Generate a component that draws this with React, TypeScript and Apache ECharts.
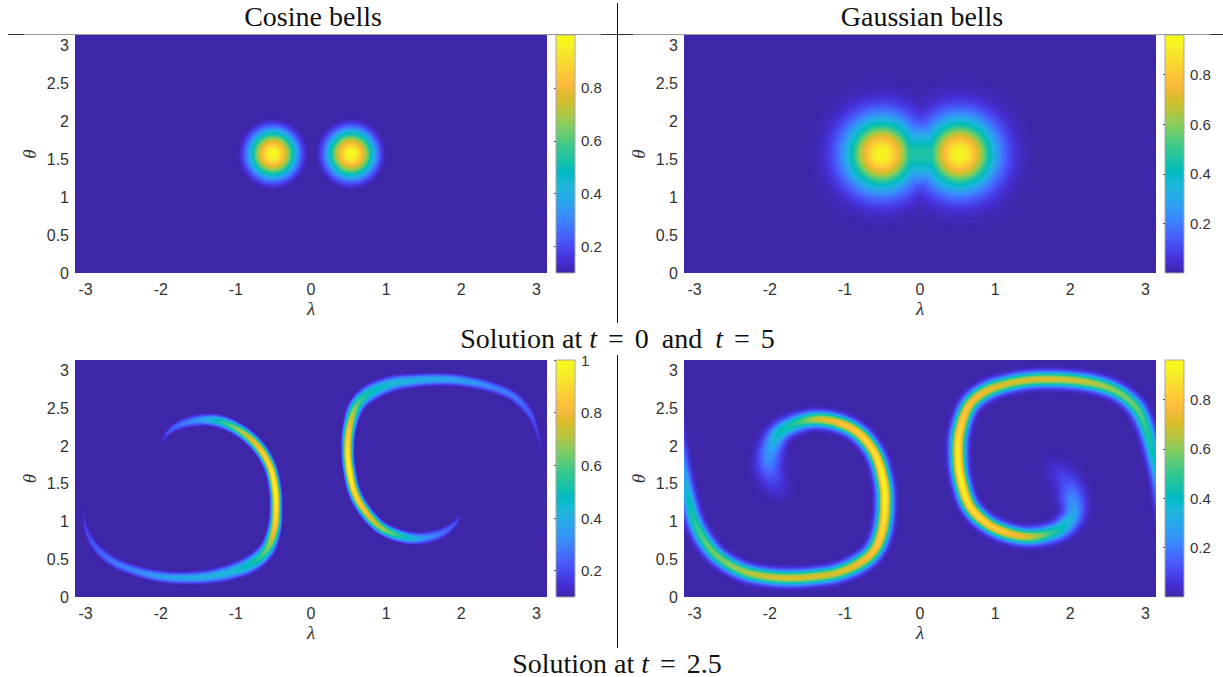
import React, { useEffect, useRef } from "react";
import * as echarts from "echarts";

// [lambda, theta, peak value, half width]
type Sample = number[];
const cosineBellsInitial: Sample[][] = [
  [[-0.507, 1.57, 1.0, 0.5]],
  [[0.533, 1.57, 1.0, 0.5]],
];
const gaussianBellsInitial: Sample[][] = [
  [[-0.51, 1.57, 0.47, 1.0], [-0.26, 1.57, 0.47, 0.95], [0.01, 1.57, 0.47, 0.85], [0.27, 1.57, 0.47, 0.95], [0.53, 1.57, 0.47, 1.0]],
  [[-0.51, 1.57, 0.95, 1.0]],
  [[0.53, 1.57, 0.95, 1.0]],
];
const cosineFilaments: Sample[][] = [
  [[-2.0, 2.015, 0.12, 0.01], [-1.9, 2.18, 0.22, 0.05], [-1.72, 2.29, 0.28, 0.085], [-1.455, 2.346, 0.37, 0.1], [-1.19, 2.32, 0.55, 0.105], [-0.922, 2.19, 0.72, 0.105], [-0.7, 1.99, 0.85, 0.105], [-0.545, 1.728, 0.93, 0.1], [-0.478, 1.44, 1.0, 0.098], [-0.465, 1.153, 0.95, 0.1], [-0.49, 0.888, 0.85, 0.11], [-0.59, 0.623, 0.65, 0.13], [-0.79, 0.446, 0.52, 0.145], [-1.055, 0.336, 0.45, 0.135], [-1.366, 0.27, 0.42, 0.115], [-1.677, 0.252, 0.4, 0.105], [-1.988, 0.27, 0.37, 0.1], [-2.3, 0.336, 0.32, 0.095], [-2.61, 0.455, 0.29, 0.09], [-2.83, 0.623, 0.25, 0.08], [-2.964, 0.822, 0.2, 0.055], [-3.02, 1.02, 0.16, 0.03], [-3.06, 1.286, 0.11, 0.01]],
  [[2.0, 1.11, 0.12, 0.01], [1.91, 0.968, 0.22, 0.05], [1.73, 0.844, 0.28, 0.085], [1.465, 0.778, 0.37, 0.1], [1.2, 0.805, 0.55, 0.105], [0.925, 0.925, 0.72, 0.105], [0.71, 1.153, 0.85, 0.105], [0.577, 1.396, 0.93, 0.1], [0.51, 1.684, 1.0, 0.098], [0.488, 1.95, 0.95, 0.1], [0.51, 2.236, 0.85, 0.11], [0.6, 2.523, 0.65, 0.13], [0.777, 2.7, 0.52, 0.145], [1.065, 2.824, 0.45, 0.135], [1.376, 2.868, 0.42, 0.115], [1.687, 2.886, 0.4, 0.105], [2.0, 2.868, 0.37, 0.1], [2.352, 2.797, 0.32, 0.095], [2.663, 2.678, 0.29, 0.09], [2.863, 2.5, 0.25, 0.08], [2.974, 2.302, 0.2, 0.055], [3.04, 2.08, 0.16, 0.03], [3.094, 1.86, 0.11, 0.01]],
];
const gaussianFilaments: Sample[][] = [
  [[-1.78, 1.22, 0.0, 0.3], [-1.86, 1.4, 0.05, 0.36], [-1.96, 1.58, 0.12, 0.38], [-2.01, 1.77, 0.22, 0.36], [-1.98, 1.97, 0.29, 0.32], [-1.876, 2.17, 0.42, 0.26], [-1.65, 2.3, 0.5, 0.225], [-1.366, 2.355, 0.7, 0.205], [-1.055, 2.3, 0.8, 0.2], [-0.79, 2.148, 0.86, 0.2], [-0.59, 1.88, 0.9, 0.2], [-0.49, 1.55, 0.95, 0.2], [-0.465, 1.24, 0.93, 0.205], [-0.5, 0.89, 0.88, 0.21], [-0.61, 0.62, 0.8, 0.215], [-0.81, 0.446, 0.76, 0.215], [-1.1, 0.32, 0.72, 0.205], [-1.41, 0.27, 0.72, 0.2], [-1.72, 0.252, 0.72, 0.2], [-2.03, 0.27, 0.7, 0.2], [-2.34, 0.336, 0.65, 0.205], [-2.63, 0.49, 0.6, 0.205], [-2.83, 0.69, 0.57, 0.21], [-2.99, 0.977, 0.5, 0.205], [-3.075, 1.286, 0.42, 0.19], [-3.13, 1.64, 0.28, 0.17], [-3.164, 1.99, 0.16, 0.145], [-3.195, 2.39, 0.06, 0.11]],
  [[1.62, 1.9, 0.0, 0.3], [1.78, 1.72, 0.05, 0.36], [1.95, 1.52, 0.12, 0.38], [2.02, 1.33, 0.22, 0.36], [2.04, 1.11, 0.3, 0.3], [1.91, 0.93, 0.42, 0.26], [1.73, 0.844, 0.52, 0.23], [1.465, 0.8, 0.7, 0.21], [1.176, 0.844, 0.8, 0.205], [0.888, 0.977, 0.86, 0.2], [0.666, 1.2, 0.9, 0.2], [0.555, 1.507, 0.95, 0.2], [0.51, 1.816, 0.93, 0.205], [0.524, 2.17, 0.88, 0.21], [0.644, 2.523, 0.8, 0.215], [0.866, 2.72, 0.76, 0.215], [1.154, 2.824, 0.72, 0.205], [1.465, 2.877, 0.72, 0.2], [1.775, 2.886, 0.72, 0.2], [2.086, 2.868, 0.7, 0.2], [2.397, 2.81, 0.65, 0.205], [2.663, 2.7, 0.6, 0.205], [2.885, 2.5, 0.57, 0.21], [3.018, 2.214, 0.5, 0.205], [3.107, 1.86, 0.42, 0.19], [3.16, 1.507, 0.28, 0.17], [3.187, 1.153, 0.16, 0.145], [3.218, 0.756, 0.06, 0.11]],
];
// [fraction of the peak above background, distance as a fraction of the half width]
const cosineProfile = [[1, 0], [0.95, 0.14], [0.9, 0.2], [0.75, 0.33], [0.6, 0.44], [0.5, 0.5], [0.25, 0.67], [0.1, 0.8], [0.02, 0.91], [0, 1]];
const gaussianProfile = [[1, 0], [0.95, 0.1], [0.9, 0.145], [0.8, 0.21], [0.7, 0.27], [0.6, 0.32], [0.5, 0.37], [0.4, 0.43], [0.3, 0.49], [0.2, 0.57], [0.1, 0.68], [0.05, 0.77], [0.02, 0.88], [0, 1.05]];

const lambdaTicks = [-3, -2, -1, 0, 1, 2, 3];
const thetaTicks = [0, 0.5, 1, 1.5, 2, 2.5, 3];
const barTicksCosineTop = [0.2, 0.4, 0.6, 0.8];
const barTicksCosineBottom = [0.2, 0.4, 0.6, 0.8, 1];
const barTicksGaussian = [0.2, 0.4, 0.6, 0.8];
const parula = ["#3e26a8", "#4530d6", "#4748f0", "#4762fb", "#3e7ffe", "#3298f5", "#27a9e9", "#1cb8d9", "#01bac2", "#1bc2a7", "#37c78e", "#63cc72", "#8fcc59", "#bbc43a", "#dcbd29", "#f9ba3e", "#fcc935", "#f9dc2e", "#f6ef27", "#f9fb15"];

const FONT = "'Liberation Sans', Arial, sans-serif";
const SERIF = "'Liberation Serif', 'DejaVu Serif', serif";
const INK = "#333";

const hex = (c: string) => [1, 3, 5].map((i) => parseInt(c.slice(i, i + 2), 16));
function colourAt(t: number) {
  const p = Math.max(0, Math.min(0.9999, t)) * (parula.length - 1);
  const i = Math.floor(p);
  const a = hex(parula[i]), b = hex(parula[i + 1]);
  const m = a.map((v, k) => Math.round(v + (b[k] - v) * (p - i)));
  return `rgb(${m[0]},${m[1]},${m[2]})`;
}
function distanceFor(profile: number[][], f: number) {
  for (let i = 1; i < profile.length; i++) {
    if (f >= profile[i][0]) {
      const [f0, d0] = profile[i - 1];
      const [f1, d1] = profile[i];
      return d1 + ((d0 - d1) * (f - f1)) / (f0 - f1);
    }
  }
  return profile[profile.length - 1][1];
}
// Smooth drawing path through the samples.
function refine(s: Sample[]) {
  if (s.length < 3) return s;
  const out: Sample[] = [];
  const n = 10;
  for (let i = 0; i < s.length - 1; i++) {
    const p0 = s[Math.max(0, i - 1)], p1 = s[i], p2 = s[i + 1], p3 = s[Math.min(s.length - 1, i + 2)];
    for (let k = 0; k < n; k++) {
      const t = k / n;
      out.push(p1.map((_, d) =>
        0.5 * (2 * p1[d] + (p2[d] - p0[d]) * t + (2 * p0[d] - 5 * p1[d] + 4 * p2[d] - p3[d]) * t * t + (3 * p1[d] - p0[d] - 3 * p2[d] + p3[d]) * t * t * t)));
    }
  }
  out.push(s[s.length - 1]);
  return out;
}

function fieldSeries(xAxisIndex: number, bands: Sample[][], profile: number[][], vMin: number, vMax: number) {
  const LEVELS = 96;
  const paths = bands.map(refine);
  const items: number[][] = [];
  for (let l = 0; l < LEVELS; l++) for (let b = 0; b < paths.length; b++) items.push([l, b]);
  return {
    type: "custom",
    xAxisIndex,
    yAxisIndex: xAxisIndex,
    clip: true,
    silent: true,
    encode: { x: -1, y: -1 },
    data: items,
    renderItem: (_: any, api: any) => {
      const l = api.value(0) as number;
      const path = paths[api.value(1) as number];
      const t = (l + 0.5) / LEVELS;
      const level = vMin + t * (vMax - vMin);
      const fill = colourAt(t);
      const children: any[] = [];
      if (path.length === 1) {
        const [x, y, peak, w] = path[0];
        const f = (level - vMin) / (peak - vMin);
        if (f <= 1) {
          const r = w * distanceFor(profile, f);
          const points: number[][] = [];
          for (let a = 0; a < 72; a++) points.push(api.coord([x + r * Math.cos((a * Math.PI) / 36), y + r * Math.sin((a * Math.PI) / 36)]));
          children.push({ type: "polygon", shape: { points }, style: { fill } });
        }
      } else {
        let left: number[][] = [], right: number[][] = [];
        const flush = () => {
          if (left.length > 1) children.push({ type: "polygon", shape: { points: left.concat(right.reverse()) }, style: { fill } });
          left = []; right = [];
        };
        for (let i = 0; i < path.length; i++) {
          const p = path[i];
          const f = (level - vMin) / (p[2] - vMin);
          if (p[2] <= vMin || f > 1) { flush(); continue; }
          const q0 = path[Math.max(0, i - 1)], q1 = path[Math.min(path.length - 1, i + 1)];
          const dx = q1[0] - q0[0], dy = q1[1] - q0[1], len = Math.hypot(dx, dy) || 1;
          const r = p[3] * distanceFor(profile, f);
          left.push(api.coord([p[0] - (dy / len) * r, p[1] + (dx / len) * r]));
          right.push(api.coord([p[0] + (dy / len) * r, p[1] - (dx / len) * r]));
        }
        flush();
      }
      return { type: "group", children };
    },
  };
}

function barSeries(axis: number, vMin: number, vMax: number) {
  const stops = parula.map((c, i) => ({ offset: i / (parula.length - 1), color: c }));
  return {
    type: "custom",
    xAxisIndex: axis,
    yAxisIndex: axis,
    silent: true,
    encode: { x: -1, y: -1 },
    data: [[0, vMin, 1, vMax]],
    renderItem: (_: any, api: any) => {
      const a = api.coord([api.value(0), api.value(1)]);
      const b = api.coord([api.value(2), api.value(3)]);
      return {
        type: "rect",
        shape: { x: a[0], y: b[1], width: b[0] - a[0], height: a[1] - b[1] },
        style: { fill: new echarts.graphic.LinearGradient(0, 1, 0, 0, stops) },
      };
    },
  };
}

const PANELS = [
  { left: 75, top: 35, height: 238, barLeft: 556, vMin: 0.1, vMax: 1.0, bands: cosineBellsInitial, profile: cosineProfile, ticks: barTicksCosineTop },
  { left: 684, top: 35, height: 238, barLeft: 1165, vMin: 0, vMax: 0.96, bands: gaussianBellsInitial, profile: gaussianProfile, ticks: barTicksGaussian },
  { left: 75, top: 360, height: 237, barLeft: 556, vMin: 0.1, vMax: 1.0, bands: cosineFilaments, profile: cosineProfile, ticks: barTicksCosineBottom },
  { left: 684, top: 360, height: 237, barLeft: 1165, vMin: 0, vMax: 0.96, bands: gaussianFilaments, profile: gaussianProfile, ticks: barTicksGaussian },
];

function buildOption() {
  const grid: any[] = [], xAxis: any[] = [], yAxis: any[] = [], series: any[] = [];
  PANELS.forEach((p, i) => {
    grid.push({ left: p.left, top: p.top, width: 472, height: p.height, show: true, backgroundColor: parula[0], borderWidth: 0 });
    xAxis.push({
      gridIndex: i, type: "value", min: -Math.PI, max: Math.PI,
      axisLine: { show: false }, axisTick: { show: false }, splitLine: { show: false },
      axisLabel: { customValues: lambdaTicks, margin: 8, fontFamily: FONT, fontSize: 16, color: INK, hideOverlap: false },
      name: "λ", nameLocation: "middle", nameGap: 26,
      nameTextStyle: { fontFamily: SERIF, fontStyle: "italic", fontSize: 19, color: INK },
    });
    yAxis.push({
      gridIndex: i, type: "value", min: 0, max: Math.PI,
      axisLine: { show: false }, axisTick: { show: false }, splitLine: { show: false },
      axisLabel: { customValues: thetaTicks, margin: 6, fontFamily: FONT, fontSize: 16, color: INK, hideOverlap: false },
      name: "θ", nameLocation: "middle", nameGap: 36, nameRotate: 90,
      nameTextStyle: { fontFamily: SERIF, fontStyle: "italic", fontSize: 19, color: INK },
    });
    series.push(fieldSeries(i, p.bands, p.profile, p.vMin, p.vMax));
  });
  PANELS.forEach((p, i) => {
    const k = i + PANELS.length;
    grid.push({ left: p.barLeft, top: p.top, width: 19, height: p.height, show: true, backgroundColor: "transparent", borderColor: "#a6a6a6", borderWidth: 1, z: 5 });
    xAxis.push({ gridIndex: k, type: "value", min: 0, max: 1, show: false });
    yAxis.push({
      gridIndex: k, type: "value", position: "right", min: p.vMin, max: p.vMax,
      axisLine: { show: false }, splitLine: { show: false },
      axisTick: { customValues: p.ticks, inside: true, length: 2, lineStyle: { color: "#444", width: 1 } },
      axisLabel: { customValues: p.ticks, margin: 6, fontFamily: FONT, fontSize: 15, color: INK, hideOverlap: false, formatter: (v: number) => String(v) },
    });
    series.push(barSeries(k, p.vMin, p.vMax));
  });

  const titleRich = {
    a: { fontFamily: SERIF, fontSize: 28, fill: "#111", color: "#111" },
    t: { fontFamily: SERIF, fontSize: 28, fontStyle: "italic", fill: "#111", color: "#111" },
    e: { fontFamily: SERIF, fontSize: 28, fill: "#111", color: "#111", padding: [0, 4] },
    w: { fontFamily: SERIF, fontSize: 28, fill: "#111", color: "#111", padding: [0, 6] },
  };
  const title = (x: number, y: number, text: string) => ({
    type: "text", x, y, silent: true,
    style: { text, rich: titleRich, font: `28px ${SERIF}`, fill: "#111", align: "center", verticalAlign: "middle" },
  });
  const rule = (x1: number, y1: number, x2: number, y2: number, stroke: string) => ({
    type: "line", silent: true, z: 10, shape: { x1, y1, x2, y2 }, style: { stroke, lineWidth: 1 },
  });
  const graphic = [
    rule(8, 34.5, 1223, 34.5, "#9a9a9a"),
    rule(8, 34.5, 24, 34.5, "#333"),
    rule(601, 34.5, 633, 34.5, "#333"),
    rule(1210, 34.5, 1223, 34.5, "#333"),
    rule(617.5, 3, 617.5, 323, "#111"),
    rule(617.5, 355, 617.5, 648, "#111"),
    title(313, 16, "{a|Cosine bells}"),
    title(922, 16, "{a|Gaussian bells}"),
    title(617.5, 338, "{a|Solution at }{t|t}{a| }{e|=}{a| 0}{w| and }{t|t}{a| }{e|=}{a| 5}"),
    title(617, 663, "{a|Solution at }{t|t}{a| }{e|=}{a| 2.5}"),
  ];
  return { animation: false, backgroundColor: "#fff", grid, xAxis, yAxis, series, graphic };
}

export default function App() {
  const ref = useRef<HTMLDivElement>(null);
  useEffect(() => {
    const chart = echarts.init(ref.current!, undefined, { renderer: "svg" });
    chart.setOption(buildOption() as any);
    return () => chart.dispose();
  }, []);
  return <div ref={ref} style={{ position: "absolute", left: 0, top: 0, width: 1223, height: 677 }} />;
}
